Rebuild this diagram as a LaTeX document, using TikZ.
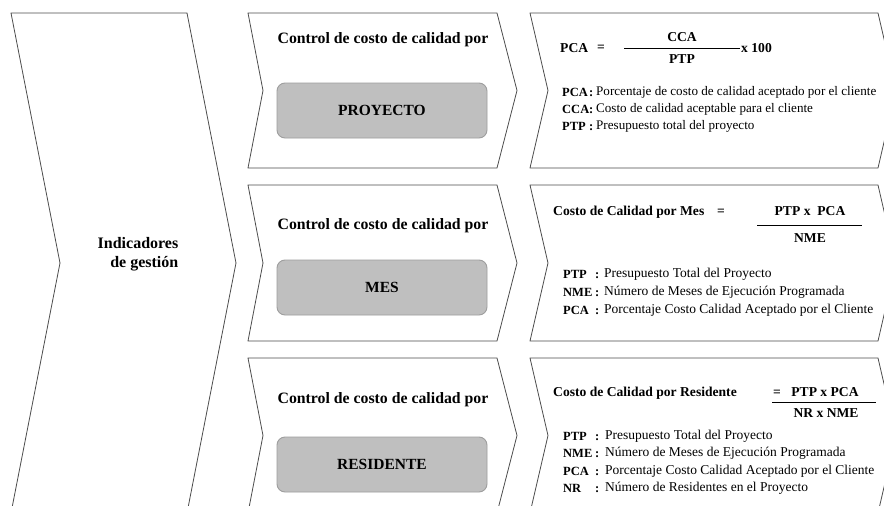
\documentclass[tikz,border=0pt]{standalone}
\usepackage{fontspec}
\setmainfont{Liberation Serif}
\begin{document}
\begin{tikzpicture}[x=1pt,y=-1pt,
  outline/.style={draw=black!70, line width=0.8pt, fill=white, line join=miter},
  pill/.style={draw=black!38, line width=0.9pt, fill=black!25, rounded corners=8pt,
    minimum width=210pt, minimum height=55pt, inner sep=0pt,
    font=\bfseries\fontsize{15.5}{18}\selectfont},
  head/.style={font=\bfseries\fontsize{15.8}{18}\selectfont, inner sep=0pt},
  frm/.style={font=\bfseries\fontsize{13.6}{16}\selectfont, inner sep=0pt},
  key/.style={font=\bfseries\fontsize{12.5}{15}\selectfont, anchor=west, inner sep=0pt},
  def/.style={font=\fontsize{13.5}{16}\selectfont, anchor=west, inner sep=0pt},
  bar/.style={draw=black, line width=1pt},
]
\useasboundingbox (0,0) rectangle (884,506);

% ---------- big chevron on the left ----------
\draw[outline] (11,13) -- (187,13) -- (236,263) -- (187,513) -- (11,513) -- (60,263) -- cycle;
\node[head, align=right, font=\bfseries\fontsize{16}{18}\selectfont] (ind) at (138,254) {Indicadores\\[1pt]de gestión};

% ---------- middle chevrons ----------
\draw[outline] (248,13)  -- (497,13)  -- (517,90.5)  -- (497,168) -- (248,168) -- (263,90.5)  -- cycle;
\draw[outline] (248,185) -- (497,185) -- (517,263)   -- (497,341) -- (248,341) -- (263,263)   -- cycle;
\draw[outline] (248,358) -- (497,358) -- (517,435.5) -- (497,513) -- (248,513) -- (263,435.5) -- cycle;

\node[head] (c1) at (383,40)  {Control de costo de calidad por};
\node[head] (c2) at (383,226) {Control de costo de calidad por};
\node[head] (c3) at (383,400) {Control de costo de calidad por};

\node[pill] (p1) at (382,110.5) {PROYECTO};
\node[pill] (p2) at (382,287.5) {MES};
\node[pill] (p3) at (382,464.5) {RESIDENTE};

% ---------- right chevrons ----------
\draw[outline] (530,13)  -- (878,13)  -- (896,90.5)  -- (878,168) -- (530,168) -- (548,90.5)  -- cycle;
\draw[outline] (530,185) -- (878,185) -- (896,263)   -- (878,341) -- (530,341) -- (548,263)   -- cycle;
\draw[outline] (530,358) -- (878,358) -- (896,435.5) -- (878,513) -- (530,513) -- (548,435.5) -- cycle;

% formula: project
\node[frm, anchor=west] (pcaL) at (560,48) {PCA};
\node[frm] (eq1) at (601,48) {=};
\coordinate (b1a) at (624,48);
\coordinate (b1b) at (740,48);
\draw[bar] (b1a) -- (b1b);
\node[frm] (cca) at (682,37) {CCA};
\node[frm] (ptp1) at (682,59) {PTP};
\node[frm, anchor=west] (x100) at (741,48.5) {x 100};

\node[key] (k11) at (562,92)  {\makebox[27pt][l]{PCA}:};
\node[key] (k12) at (562,109) {\makebox[27pt][l]{CCA}:};
\node[key] (k13) at (562,126) {\makebox[27pt][l]{PTP}:};
\node[def, font=\fontsize{13.1}{16}\selectfont] (d11) at (596,92)  {Porcentaje de costo de calidad aceptado por el cliente};
\node[def, font=\fontsize{13.1}{16}\selectfont] (d12) at (596,109) {Costo de calidad aceptable para el cliente};
\node[def, font=\fontsize{13.1}{16}\selectfont] (d13) at (596,126) {Presupuesto total del proyecto};

% formula: month
\node[frm, anchor=west] (cm) at (553,212) {Costo de Calidad por Mes};
\node[frm] (eq2) at (721,212) {=};
\coordinate (b2a) at (757,225);
\coordinate (b2b) at (862,225);
\draw[bar] (b2a) -- (b2b);
\node[frm] (n2) at (810,211) {PTP x\ \ PCA};
\node[frm] (d2) at (810,238) {NME};

\node[key] (k21) at (563,274) {\makebox[32pt][l]{PTP}:};
\node[key] (k22) at (563,292) {\makebox[32pt][l]{NME}:};
\node[key] (k23) at (563,310) {\makebox[32pt][l]{PCA}:};
\node[def] (d21) at (604,274) {Presupuesto Total del Proyecto};
\node[def] (d22) at (604,292) {Número de Meses de Ejecución Programada};
\node[def] (d23) at (604,310) {Porcentaje Costo Calidad Aceptado por el Cliente};

% formula: resident
\node[frm, anchor=west] (cr) at (553,393) {Costo de Calidad por Residente};
\node[frm] (eq3) at (777,393) {=};
\coordinate (b3a) at (772,402);
\coordinate (b3b) at (876,402);
\draw[bar] (b3a) -- (b3b);
\node[frm] (n3) at (825,392) {PTP x PCA};
\node[frm] (d3) at (826,413) {NR x NME};

\node[key] (k31) at (563,436) {\makebox[32pt][l]{PTP}:};
\node[key] (k32) at (563,453) {\makebox[32pt][l]{NME}:};
\node[key] (k33) at (563,471) {\makebox[32pt][l]{PCA}:};
\node[key] (k34) at (563,488) {\makebox[32pt][l]{NR}:};
\node[def] (d31) at (605,436) {Presupuesto Total del Proyecto};
\node[def] (d32) at (605,453) {Número de Meses de Ejecución Programada};
\node[def] (d33) at (605,471) {Porcentaje Costo Calidad Aceptado por el Cliente};
\node[def] (d34) at (605,488) {Número de Residentes en el Proyecto};
\end{tikzpicture}
\end{document}
